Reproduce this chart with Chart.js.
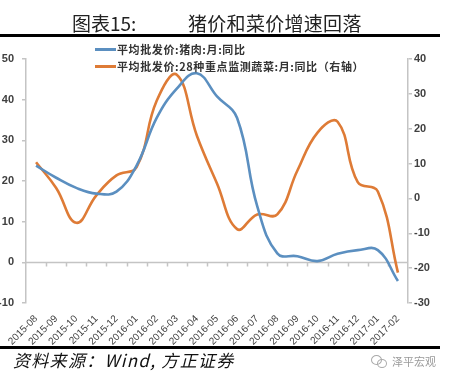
<!DOCTYPE html>
<html>
<head>
<meta charset="utf-8">
<script src="https://cdn.jsdelivr.net/npm/chart.js@4.4.0/dist/chart.umd.min.js"></script>
<style>
html,body{margin:0;padding:0;background:#fff;}
#wrap{position:relative;width:449px;height:379px;overflow:hidden;background:#fff;}
#c{position:absolute;left:0;top:0;}
.abs{position:absolute;white-space:nowrap;z-index:2;}
.t{font-family:"Noto Sans CJK SC",sans-serif;font-size:19px;line-height:19px;color:#222;top:13px;}
.rule{position:absolute;left:0;width:440px;height:3px;background:#000;z-index:2;}
.lg{font-family:"Noto Sans CJK SC",sans-serif;font-size:11px;font-weight:bold;line-height:12px;color:#333;left:117px;letter-spacing:0.6px;}
.lgline{position:absolute;left:95px;width:21px;height:3px;z-index:2;}
.src{font-family:"Noto Sans CJK SC",sans-serif;font-style:italic;font-size:17px;line-height:17px;color:#111;left:13px;top:351px;letter-spacing:1.3px;}
.wm{font-family:"Noto Sans CJK SC",sans-serif;font-size:11px;line-height:12px;color:#9a9a9a;left:392px;top:355px;}
.ic{position:absolute;border:1px solid #aaa;border-radius:50%;z-index:2;}
</style>
</head>
<body>
<div id="wrap">
<canvas id="c" width="449" height="379"></canvas>
<div class="abs t" style="left:72px;">图表15:</div>
<div class="abs t" style="left:188px;letter-spacing:0.3px;">猪价和菜价增速回落</div>
<div class="rule" style="top:34px;"></div>
<div class="lgline" style="top:48px;background:#5b8fc0;"></div>
<div class="abs lg" style="top:43px;">平均批发价:猪肉:月:同比</div>
<div class="lgline" style="top:65px;background:#de7b36;"></div>
<div class="abs lg" style="top:60px;">平均批发价:28种重点监测蔬菜:月:同比（右轴）</div>
<div class="rule" style="top:346px;"></div>
<div class="abs src">资料来源：Wind, 方正证券</div>
<div class="ic" style="left:371px;top:355px;width:9px;height:8px;"></div>
<div class="ic" style="left:377px;top:359px;width:8px;height:7px;"></div>
<div class="abs wm">泽平宏观</div>
</div>
<script>
const categories = ["2015-08","2015-09","2015-10","2015-11","2015-12","2016-01","2016-02","2016-03","2016-04","2016-05","2016-06","2016-07","2016-08","2016-09","2016-10","2016-11","2016-12","2017-01","2017-02"];
const porkYoY = [23.8, 20.8, 18.3, 16.9, 17.4, 23.8, 35.5, 42.7, 46.5, 40.8, 35.5, 13.8, 2.2, 1.5, 0.3, 2.1, 3.0, 3.0, -4.6];
const vegYoY  = [10.4, 3.0, -7.0, 0.9, 6.6, 9.0, 28.0, 35.5, 18.0, 4.3, -8.8, -4.6, -4.6, 8.0, 18.9, 22.0, 4.7, 2.0, -21.3];
const seriesNames = ["平均批发价:猪肉:月:同比", "平均批发价:28种重点监测蔬菜:月:同比（右轴）"];
const leftRange = [-10, 50];
const rightRange = [-30, 40];
const tickStep = 10;

const axisGray = '#c4c4c4';
const tickFont = {family:'"Liberation Sans", Arial, sans-serif', size:11, weight:'bold'};

const zeroAxis = {
  id: 'zeroAxis',
  beforeDatasetsDraw(chart) {
    const {ctx, chartArea, scales} = chart;
    const x = scales.x, y = scales.y;
    const y0 = Math.round(y.getPixelForValue(0)) + 0.5;
    ctx.save();
    ctx.strokeStyle = axisGray;
    ctx.lineWidth = 1.5;
    ctx.beginPath();
    ctx.moveTo(chartArea.left, y0);
    ctx.lineTo(chartArea.right, y0);
    for (let i = 1; i < categories.length; i++) {
      const bx = Math.round((x.getPixelForValue(i - 1) + x.getPixelForValue(i)) / 2) + 0.5;
      ctx.moveTo(bx, y0);
      ctx.lineTo(bx, y0 + 4);
    }
    ctx.stroke();
    ctx.restore();
  }
};

new Chart(document.getElementById('c'), {
  type: 'line',
  data: {
    labels: categories,
    datasets: [
      {label: seriesNames[0], data: porkYoY, yAxisID: 'y', borderColor: '#5b8fc0', borderWidth: 2.6, pointRadius: 0, tension: 0.42, fill: false},
      {label: seriesNames[1], data: vegYoY, yAxisID: 'y1', borderColor: '#de7b36', borderWidth: 2.6, pointRadius: 0, tension: 0.42, fill: false}
    ]
  },
  options: {
    responsive: false,
    animation: false,
    devicePixelRatio: 1,
    layout: {padding: {top: 59, left: 0, right: 0, bottom: 0}},
    plugins: {legend: {display: false}, tooltip: {enabled: false}},
    scales: {
      x: {
        type: 'category',
        offset: true,
        grid: {display: false},
        border: {display: false},
        ticks: {maxRotation: 45, minRotation: 45, autoSkip: false, padding: 2, color: '#404040',
                font: {family: '"Liberation Sans", Arial, sans-serif', size: 10}},
        afterFit(s) { s.height = 76; }
      },
      y: {
        position: 'left',
        min: leftRange[0], max: leftRange[1],
        ticks: {stepSize: tickStep, color: '#404040', font: tickFont, padding: 8},
        grid: {display: true, drawOnChartArea: false, tickLength: 4, color: axisGray, lineWidth: 1.5},
        border: {display: true, color: axisGray, width: 1.5},
        afterFit(s) { s.width = 26; }
      },
      y1: {
        position: 'right',
        min: rightRange[0], max: rightRange[1],
        ticks: {stepSize: tickStep, color: '#404040', font: tickFont, padding: 2},
        grid: {display: true, drawOnChartArea: false, tickLength: 4, color: axisGray, lineWidth: 1.5},
        border: {display: true, color: axisGray, width: 1.5},
        afterFit(s) { s.width = 41; }
      }
    }
  },
  plugins: [zeroAxis]
});
</script>
</body>
</html>
